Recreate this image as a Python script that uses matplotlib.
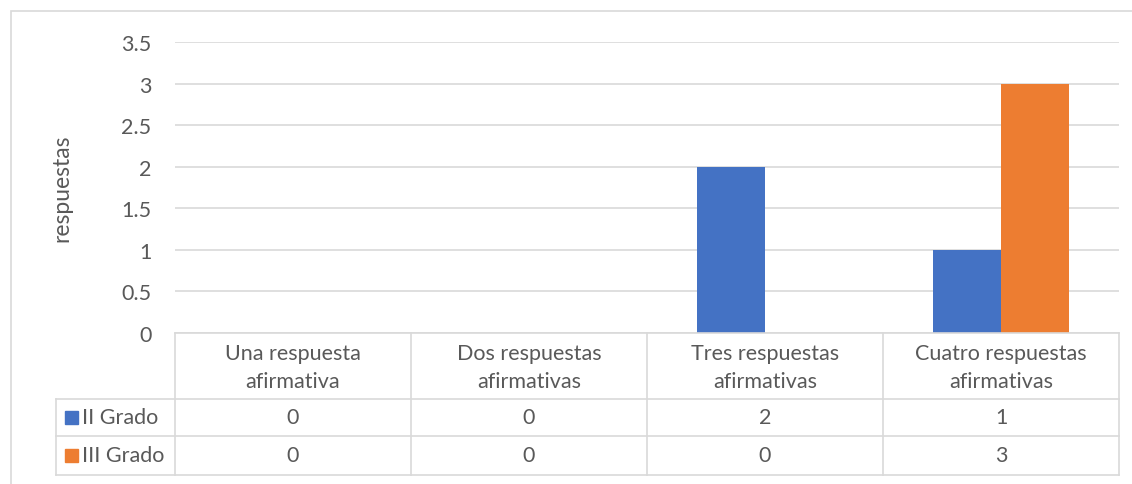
import matplotlib.pyplot as plt
import numpy as np
from matplotlib.lines import Line2D
from matplotlib.patches import Rectangle

categorias = ["Una respuesta\nafirmativa", "Dos respuestas\nafirmativas",
              "Tres respuestas\nafirmativas", "Cuatro respuestas\nafirmativas"]
series = ["II Grado", "III Grado"]
ii_grado = [0, 0, 2, 1]
iii_grado = [0, 0, 0, 3]
colores = ["#4472C4", "#ED7D31"]

plt.rcParams['font.family'] = ['Lato', 'DejaVu Sans']
TXT = "#595959"
GRID = "#D9D9D9"
FS = 15.5

W, H = 1132, 485
fig = plt.figure(figsize=(W / 100, H / 100), dpi=100)

def fx(px):
    return px / W

def fy(py):
    return 1 - py / H

# outer chart border
fig.add_artist(Rectangle((fx(11), fy(500)), fx(1140) - fx(11), fy(12) - fy(500),
                         transform=fig.transFigure, fill=False, edgecolor=GRID, lw=1.2))

x0, x1, y_top, y_zero = 175, 1119, 43, 334
ax = fig.add_axes([fx(x0), fy(y_zero), fx(x1) - fx(x0), fy(y_top) - fy(y_zero)])
ax.set_xlim(0, 4)
ax.set_ylim(0, 3.5)
ax.set_yticks(np.arange(0, 3.51, 0.5))
ax.set_yticklabels(["0", "0.5", "1", "1.5", "2", "2.5", "3", "3.5"])
ax.yaxis.grid(True, color=GRID, lw=1.2)
ax.set_axisbelow(True)
ax.set_xticks([])
for s in ax.spines.values():
    s.set_visible(False)
ax.tick_params(axis='y', length=0, pad=17, labelsize=FS, labelcolor=TXT)
ax.set_ylabel("respuestas", fontsize=FS + 1, color=TXT)
ax.yaxis.set_label_coords(-0.109, 0.5)

pos = np.arange(4) + 0.5
bw = 0.288
ax.bar(pos - bw / 2, ii_grado, bw, color=colores[0], zorder=3)
ax.bar(pos + bw / 2, iii_grado, bw, color=colores[1], zorder=3)

# data table
tab_left, row1, row2, row3 = 56, 400, 437, 476
col_edges = np.linspace(x0, x1, 5)

def hline(py, xa, xb):
    fig.add_artist(Line2D([fx(xa), fx(xb)], [fy(py), fy(py)], transform=fig.transFigure,
                          color=GRID, lw=1.2))

def vline(px, ya, yb):
    fig.add_artist(Line2D([fx(px), fx(px)], [fy(ya), fy(yb)], transform=fig.transFigure,
                          color=GRID, lw=1.2))

hline(y_zero, x0, x1)
hline(row1, tab_left, x1)
hline(row2, tab_left, x1)
hline(row3, tab_left, x1)
vline(tab_left, row1, row3)
for cx in col_edges:
    vline(cx, y_zero, row3)

for i, cat in enumerate(categorias):
    cx = (col_edges[i] + col_edges[i + 1]) / 2
    fig.text(fx(cx), fy((y_zero + row1) / 2 + 1), cat, ha='center', va='center',
             fontsize=FS, color=TXT, linespacing=1.5)
    fig.text(fx(cx), fy((row1 + row2) / 2), str(ii_grado[i]), ha='center', va='center',
             fontsize=FS, color=TXT)
    fig.text(fx(cx), fy((row2 + row3) / 2), str(iii_grado[i]), ha='center', va='center',
             fontsize=FS, color=TXT)

for (ya, yb), name, col in zip([(row1, row2), (row2, row3)], series, colores):
    yc = (ya + yb) / 2
    fig.add_artist(Rectangle((fx(65), fy(yc + 6.5)), fx(13), fy(0) - fy(13),
                             transform=fig.transFigure, color=col))
    fig.text(fx(82), fy(yc), name, ha='left', va='center', fontsize=FS, color=TXT)

fig.savefig("out.png", dpi=100)
